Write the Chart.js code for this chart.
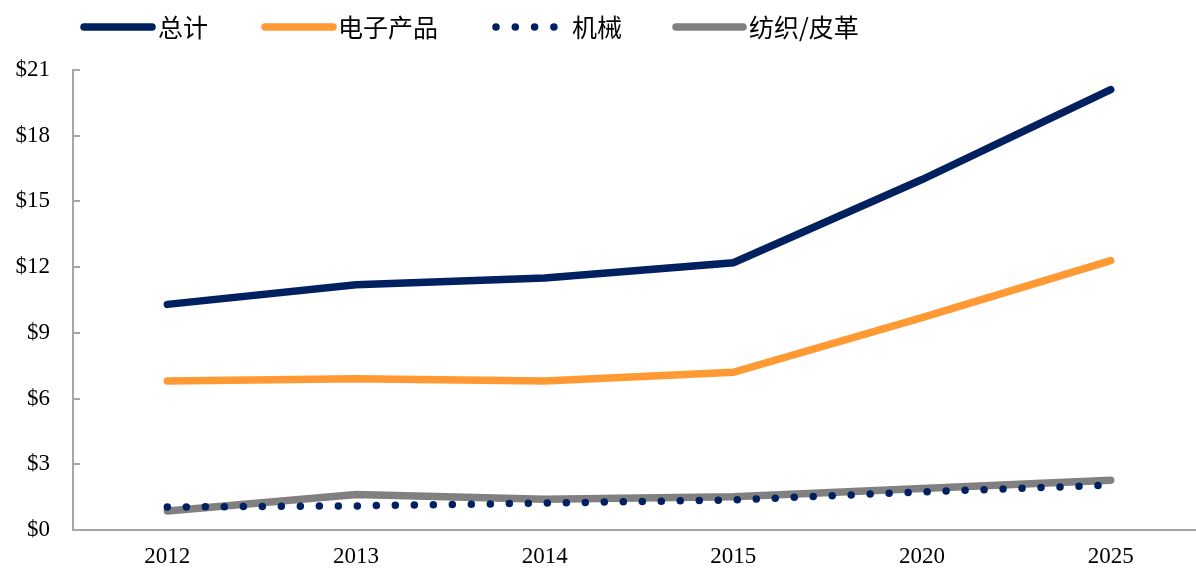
<!DOCTYPE html>
<html>
<head>
<meta charset="utf-8">
<script src="https://cdn.jsdelivr.net/npm/chart.js@4/dist/chart.umd.min.js"></script>
<style>
  html, body { margin: 0; padding: 0; background: #fff; }
  #clip { width: 1196px; height: 569px; overflow: hidden; }
  #wrap { width: 1205px; height: 569px; }
</style>
</head>
<body>
<div id="clip"><div id="wrap"><canvas id="chart"></canvas></div></div>
<script>
// Data
const years = ['2012', '2013', '2014', '2015', '2020', '2025'];
const totalValues = [10.3, 11.2, 11.5, 12.2, 16.0, 20.1];
const electronicsValues = [6.8, 6.9, 6.8, 7.2, 9.7, 12.3];
const machineryValues = [1.05, 1.1, 1.23, 1.37, 1.74, 2.05];
const textileValues = [0.87, 1.62, 1.4, 1.52, 1.9, 2.27];
const yTicks = [0, 3, 6, 9, 12, 15, 18, 21];

const navy = '#002060';
const orange = '#FF9933';
const grey = '#808080';

// Legend drawn by hand so the long line swatches sit like the original
const legendSlots = [
    { x0: 84, x1: 152, tx: 158 },
    { x0: 265, x1: 333, tx: 338 },
    { x0: 496, x1: 554, tx: 572 },
    { x0: 676, x1: 743, tx: 749 }
];

const topLegend = {
    id: 'topLegend',
    afterDraw(chart) {
        const ctx = chart.ctx;
        const y = 27;
        chart.data.datasets.forEach((ds, i) => {
            const s = legendSlots[i];
            ctx.save();
            ctx.strokeStyle = ds.borderColor;
            ctx.lineWidth = ds.borderWidth;
            ctx.lineCap = 'round';
            ctx.setLineDash(ds.borderDash ? [0, 19.3] : []);
            ctx.beginPath();
            ctx.moveTo(s.x0, y);
            ctx.lineTo(s.x1, y);
            ctx.stroke();
            ctx.setLineDash([]);
            ctx.fillStyle = '#000';
            ctx.font = '25px "Noto Sans CJK SC"';
            ctx.textBaseline = 'middle';
            ctx.textAlign = 'left';
            ctx.fillText(ds.label, s.tx, y);
            ctx.restore();
        });
    }
};

new Chart(document.getElementById('chart'), {
    type: 'line',
    data: {
        labels: years,
        datasets: [{
            label: '总计',
            data: totalValues,
            borderColor: navy,
            borderWidth: 7.5,
            borderCapStyle: 'round',
            pointRadius: 0
        }, {
            label: '电子产品',
            data: electronicsValues,
            borderColor: orange,
            borderWidth: 7.5,
            borderCapStyle: 'round',
            pointRadius: 0
        }, {
            label: '机械',
            data: machineryValues,
            borderColor: navy,
            borderWidth: 7.5,
            borderCapStyle: 'round',
            borderDash: [0, 19],
            pointRadius: 0
        }, {
            label: '纺织/皮革',
            data: textileValues,
            borderColor: grey,
            borderWidth: 7.5,
            borderCapStyle: 'round',
            pointRadius: 0
        }]
    },
    plugins: [topLegend],
    options: {
        responsive: true,
        maintainAspectRatio: false,
        animation: false,
        layout: {
            padding: { left: 0, right: 0, top: 70, bottom: 0 }
        },
        plugins: {
            legend: { display: false },
            tooltip: { enabled: false }
        },
        scales: {
            x: {
                offset: true,
                grid: { display: false, drawTicks: false },
                border: { color: '#A6A6A6', width: 2 },
                afterFit: function(axis) { axis.height = 39; },
                ticks: {
                    color: '#000',
                    padding: 13,
                    font: { family: '"Liberation Serif"', size: 23 }
                }
            },
            y: {
                min: 0,
                max: 21,
                afterBuildTicks: function(axis) {
                    axis.ticks = yTicks.map(v => ({ value: v }));
                },
                afterFit: function(axis) {
                    axis.width = 73;
                    axis.paddingBottom = 0;
                },
                grid: { drawOnChartArea: false, tickLength: -7, color: '#A6A6A6', lineWidth: 2 },
                border: { color: '#A6A6A6', width: 2 },
                ticks: {
                    color: '#000',
                    padding: 30,
                    font: { family: '"Liberation Serif"', size: 23 },
                    callback: function(value) { return '$' + value; }
                }
            }
        }
    }
});
</script>
</body>
</html>
